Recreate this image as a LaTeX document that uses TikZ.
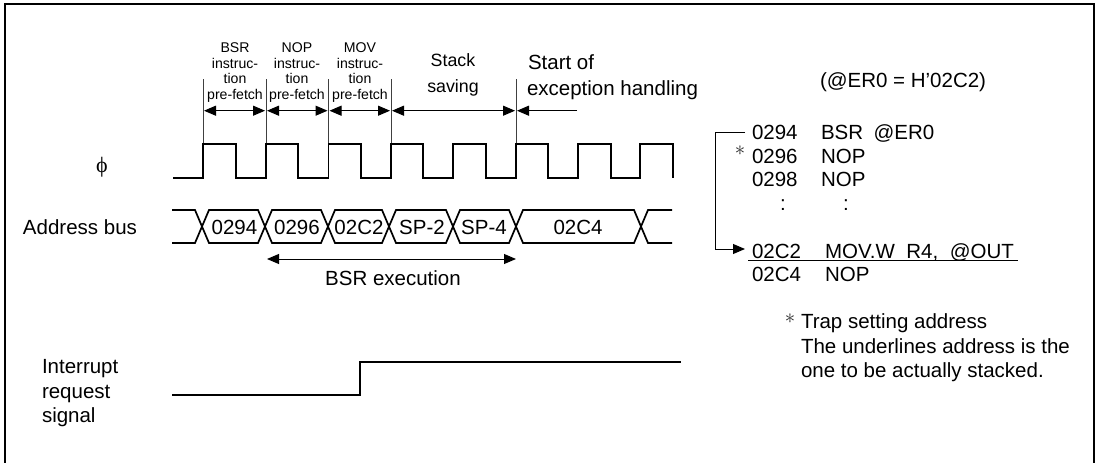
\documentclass[tikz,border=0pt]{standalone}
\usepackage{fontspec}
\setmainfont{Liberation Sans}
\newfontfamily\serifphi{Liberation Serif}
\usetikzlibrary{arrows.meta}
\tikzset{
  x=1pt,y=-1pt,
  base/.style={inner sep=0pt,outer sep=0pt,font=\fontsize{20.5}{25}\selectfont},
  lab/.style={base,anchor=base west},
  cen/.style={base,anchor=base},
  small/.style={inner sep=0pt,outer sep=0pt,align=center,anchor=center,font=\fontsize{14.1}{15.4}\selectfont},
  wave/.style={line width=1.7pt,line join=miter},
  thin1/.style={line width=1pt},
  tick/.style={line width=1pt,black!75},
  dbl/.style={line width=1pt,{Triangle[length=12pt,width=10pt]}-{Triangle[length=12pt,width=10pt]},shorten <=1pt,shorten >=1pt},
  sgl/.style={line width=1pt,-{Triangle[length=12pt,width=10pt]}},
  frame/.style={line width=2pt},
  star/.style={inner sep=0pt,outer sep=0pt,black!85,font=\fontsize{20}{20}\selectfont}
}
\begin{document}
\begin{tikzpicture}
\useasboundingbox (0,0) rectangle (1101,463);
% frame
\draw[frame] (5,470) -- (5,4) -- (1094,4) -- (1094,470);
% tick coordinates
\foreach \n/\x in {a/203,b/266,c/328.5,d/391,e/516}{
  \coordinate (\n top) at (\x,79);
  \coordinate (\n bot) at (\x,144);
  \coordinate (\n arr) at (\x,110.7);
  \draw[tick] (\n top) -- (\n bot);
}
\coordinate (startend) at (577,110.7);
\draw[dbl] (aarr) -- (barr);
\draw[dbl] (barr) -- (carr);
\draw[dbl] (carr) -- (darr);
\draw[dbl] (darr) -- (earr);
\draw[sgl,shorten >=1pt] (startend) -- (earr);
% small labels
\node[small] (l1) at (235,72.5) {BSR\\instruc-\\tion\\pre-fetch};
\node[small] (l2) at (297,72.5) {NOP\\instruc-\\tion\\pre-fetch};
\node[small] (l3) at (360,72.5) {MOV\\instruc-\\tion\\pre-fetch};
\node[cen,font=\fontsize{17.8}{17.8}\selectfont] (l4a) at (453,66) {Stack};
\node[cen,font=\fontsize{17.8}{17.8}\selectfont] (l4b) at (453,92) {saving};
\node[lab] (l5a) at (528,69) {Start of};
\node[lab] (l5b) at (527,95) {exception handling};
\node[lab] (er0) at (820,87) {(@ER0 = H'02C2)};
% phi
\node[base,font=\serifphi\fontsize{22}{22}\selectfont] (phi) at (102,167) {ϕ};
\draw[wave] (173,178) -- (203,178) -- (203,144) -- (236,144) -- (236,178) -- (266,178) -- (266,144) -- (298,144) -- (298,178) -- (328.5,178) -- (328.5,144) -- (361,144) -- (361,178) -- (391,178) -- (391,144) -- (423,144) -- (423,178) -- (453,178) -- (453,144) -- (486,144) -- (486,178) -- (516,178) -- (516,144) -- (548,144) -- (548,178) -- (578,178) -- (578,144) -- (611,144) -- (611,178) -- (640,178) -- (640,144) -- (673,144) -- (673,178);
% bus
\node[lab] (bus) at (23,234) {Address bus};
\draw[wave] (172,210) -- (195,210) -- (209,243) -- (258,243) -- (272,210) -- (321,210) -- (335,243) -- (382,243) -- (396,210) -- (446,210) -- (460,243) -- (509,243) -- (523,210) -- (634,210) -- (648,243) -- (672,243);
\draw[wave] (172,243) -- (195,243) -- (209,210) -- (258,210) -- (272,243) -- (321,243) -- (335,210) -- (382,210) -- (396,243) -- (446,243) -- (460,210) -- (509,210) -- (523,243) -- (634,243) -- (648,210) -- (672,210);
\foreach \n/\x/\t in {b1/234.5/0294,b2/297/0296,b3/359/02C2,b4/422/SP-2,b5/484/SP-4,b6/578/02C4}{
  \node[cen] (\n) at (\x,234) {\t};
}
% BSR execution
\coordinate (exL) at (267,259);
\coordinate (exR) at (516,259);
\draw[line width=1pt,{Triangle[length=12pt,width=10pt]}-{Triangle[length=12pt,width=10pt]}] (exL) -- (exR);
\node[cen] (exlab) at (393,285) {BSR execution};
% interrupt
\node[lab] (i1) at (42,373) {Interrupt};
\node[lab] (i2) at (42,398) {request};
\node[lab] (i3) at (42,422) {signal};
\draw[wave] (172,395) -- (360,395) -- (360,362) -- (681,362);
% code
\node[lab] (c1) at (752,139) {0294};
\node[lab] (c1b) at (821,139) {BSR\hspace{10.5pt}@ER0};
\node[star] (st1) at (740,151) {\(\ast\)};
\node[lab] (c2) at (752,163) {0296};
\node[lab] (c2b) at (821,163) {NOP};
\node[lab] (c3) at (752,186) {0298};
\node[lab] (c3b) at (821,186) {NOP};
\node[cen] (d1) at (783,210) {:};
\node[cen] (d2) at (846,210) {:};
\node[lab] (c4) at (752,258) {02C2};
\node[lab] (c4b) at (825,258) {MOV.W\hspace{11.5pt}R4,\hspace{11.5pt}@OUT};
\node[lab] (c5) at (752,281) {02C4};
\node[lab] (c5b) at (825,281) {NOP};
\coordinate (ulL) at (748,260);
\coordinate (ulR) at (1018,260);
\draw[thin1] (ulL) -- (ulR);
\coordinate (brA) at (745,132);
\coordinate (brB) at (745,249);
\draw[sgl] (brA) -- (715,132) -- (715,249) -- (brB);
% note
\node[star] (st2) at (790,319) {\(\ast\)};
\node[lab] (n1) at (801,328) {Trap setting address};
\node[lab] (n2) at (801,353) {The underlines address is the};
\node[lab] (n3) at (801,377) {one to be actually stacked.};
\end{tikzpicture}
\end{document}
